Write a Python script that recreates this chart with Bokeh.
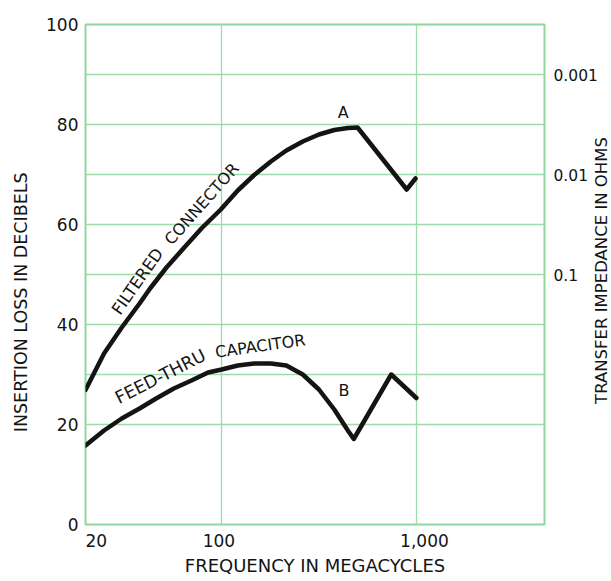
import math
from bokeh.plotting import figure
from bokeh.layouts import row
from bokeh.models import FixedTicker
from bokeh.core.properties import value
from bokeh.embed import file_html
from bokeh.resources import INLINE

# ---- data ----
freq_a = [20, 24.9, 30.7, 37.9, 42.9, 52.1, 64.3, 79.2, 99, 121, 147, 179, 215,
          261, 316, 379, 445, 499, 892, 990]
loss_a = [26.9, 34.2, 39.4, 44.2, 47.2, 51.4, 55.4, 59.3, 63.0, 66.8, 69.9, 72.6,
          74.8, 76.6, 78.0, 78.9, 79.3, 79.4, 67.0, 69.2]

freq_b = [20, 24.9, 30.7, 37.9, 46.1, 56.8, 70, 85.2, 100, 121, 147, 179, 215,
          261, 316, 379, 445, 477, 743, 1000]
loss_b = [15.8, 18.8, 21.2, 23.2, 25.2, 27.2, 28.8, 30.4, 31.0, 31.8, 32.2, 32.2,
          31.8, 30.0, 27.0, 23.0, 18.8, 17.1, 30.0, 25.3]

NB = "\u00a0"
x_ticks = [20, 100, 1000]
x_tick_labels = [NB * 4 + "20", "100" + NB, NB * 3 + "1,000"]
y_ticks = [0, 20, 40, 60, 80, 100]
y_grid = [20, 30, 40, 50, 60, 70, 80, 90]
# right-hand scale: transfer impedance (ohms); 1 ohm sits at 30 dB, 20 dB per decade
z_ticks = [0.001, 0.01, 0.1]
z_labels = ["0.001", "0.01", "0.1"]
z_ref_db, z_db_per_decade = 30, 20

FONT = "DejaVu Sans"
GREEN = "#9edba9"
INK = "#141414"
TOP, BOTTOM = 24, 57

p = figure(width=546, height=581, x_axis_type="log",
           x_range=(20, 4550), y_range=(0, 100),
           min_border_left=85, min_border_right=2, min_border_top=TOP, min_border_bottom=BOTTOM,
           output_backend="svg", toolbar_location=None,
           background_fill_color="white", border_fill_color="white")

p.outline_line_color = "#90d69e"
p.outline_line_width = 2

# grid
p.xgrid.ticker = FixedTicker(ticks=[100, 1000])
p.ygrid.ticker = FixedTicker(ticks=y_grid)
for g in (p.xgrid, p.ygrid):
    g.grid_line_color = GREEN
    g.grid_line_width = 1.3

# bottom axis
xa = p.xaxis[0]
xa.ticker = FixedTicker(ticks=x_ticks)
xa.major_label_overrides = {t: l for t, l in zip(x_ticks, x_tick_labels)}
xa.axis_label = "FREQUENCY IN MEGACYCLES"

# left axis
ya = p.yaxis[0]
ya.ticker = FixedTicker(ticks=y_ticks)
ya.axis_label = "INSERTION LOSS IN DECIBELS" + NB * 10

for ax in (xa, ya):
    ax.axis_line_color = None
    ax.major_tick_line_color = None
    ax.minor_tick_line_color = None
    ax.major_label_text_font = FONT
    ax.major_label_text_font_size = "17px"
    ax.major_label_text_color = INK
    ax.axis_label_text_font = FONT
    ax.axis_label_text_font_size = "18px"
    ax.axis_label_text_font_style = "normal"
    ax.axis_label_text_color = INK

xa.major_label_standoff = 0
xa.axis_label_standoff = 1
ya.major_label_standoff = 1
ya.axis_label_standoff = 12
ya.axis_label_text_font_size = "17.5px"

# curves
p.line(freq_a, loss_a, line_color=INK, line_width=4.5, line_join="round", line_cap="round")
p.line(freq_b, loss_b, line_color=INK, line_width=4.5, line_join="round", line_cap="round")

# curve labels
lab_x = [37, 79, 48.5, 158, 421, 425]
lab_y = [48.6, 64.1, 29.6, 35.7, 82.4, 26.9]
lab_t = ["FILTERED", "CONNECTOR", "FEED-THRU", "CAPACITOR", "A", "B"]
lab_a = [55, 48.5, 27, 8, 0, 0]
lab_s = ["16.5px", "16px", "17.5px", "16px", "16px", "16px"]
p.text(x=lab_x, y=lab_y, text=lab_t, angle=[math.radians(a) for a in lab_a],
       text_font=value(FONT), text_font_size=lab_s,
       text_color=INK, text_align="center", text_baseline="middle")

# right-hand strip: impedance scale labels and its title, sharing the dB range
q = figure(width=65, height=581, x_range=(0, 65), y_range=p.y_range,
           min_border_left=0, min_border_right=0, min_border_top=TOP, min_border_bottom=BOTTOM,
           x_axis_location=None, y_axis_location=None,
           output_backend="svg", toolbar_location=None,
           background_fill_color="white", border_fill_color="white")
q.grid.visible = False
q.outline_line_color = None
z_db = [z_ref_db - z_db_per_decade * math.log10(z) for z in z_ticks]
q.text(x=[7] * len(z_db), y=z_db, text=z_labels,
       text_font=value(FONT), text_font_size="15.5px", text_color=INK,
       text_align="left", text_baseline="middle")
q.text(x=[55], y=[50.8], text=["TRANSFER IMPEDANCE IN OHMS"], angle=math.pi / 2,
       text_font=value(FONT), text_font_size="16.5px", text_color=INK,
       text_align="center", text_baseline="middle")

layout = row(p, q)
open("out.html", "w").write(file_html(layout, INLINE))
